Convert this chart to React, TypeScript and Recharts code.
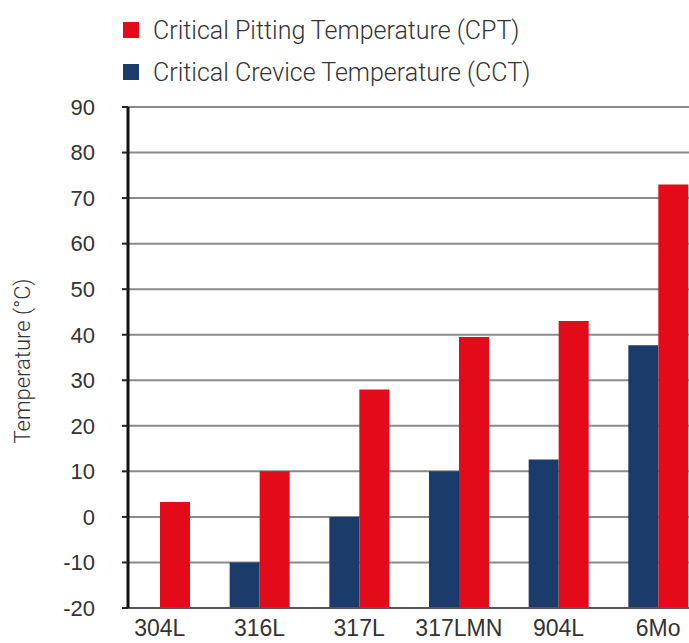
import { BarChart, Bar, XAxis, YAxis, CartesianGrid } from 'recharts'

const RED = '#e30a1a'
const BLUE = '#1b3b6b'

const grades = ['304L', '316L', '317L', '317LMN', '904L', '6Mo']
const cpt = [3.3, 10, 28, 39.5, 43, 73]
const cct: (number | null)[] = [null, -10, 0, 10, 12.6, 37.7]
const yTicks = [-20, -10, 0, 10, 20, 30, 40, 50, 60, 70, 80, 90]

const BASE = -20

const data = grades.map((g, i) => ({ grade: g, cpt: cpt[i], cct: cct[i] }))

const legendItems = [
  { label: 'Critical Pitting Temperature (CPT)', color: RED, center: 30 },
  { label: 'Critical Crevice Temperature (CCT)', color: BLUE, center: 72 },
]

export default function App() {
  return (
    <div style={{ position: 'absolute', left: 0, top: 0, width: 689, height: 643, overflow: 'hidden', background: '#fff' }}>
      {legendItems.map((it) => (
        <div
          key={it.label}
          style={{
            position: 'absolute', left: 123, top: it.center - 18, height: 36, display: 'flex', alignItems: 'center',
            fontFamily: 'Roboto, sans-serif', fontWeight: 300, fontSize: 25, color: '#333', whiteSpace: 'nowrap',
          }}
        >
          <span style={{ width: 16, height: 16, background: it.color, display: 'inline-block', marginRight: 14 }} />
          {it.label}
        </div>
      ))}
      <div
        style={{
          position: 'absolute', left: 22, top: 361, transform: 'translate(-50%, -50%) rotate(-90deg)',
          fontFamily: 'Roboto, sans-serif', fontWeight: 300, fontSize: 22, color: '#333', whiteSpace: 'nowrap',
        }}
      >
        Temperature (°C)
      </div>
      <BarChart
        width={708}
        height={643}
        data={data}
        margin={{ top: 107, right: 0, left: 0, bottom: 0 }}
        barSize={30}
        barGap={0}
        style={{ position: 'absolute', left: 0, top: 0 }}
      >
        <CartesianGrid vertical={false} stroke="#8a8a8a" strokeWidth={2} />
        <XAxis
          dataKey="grade"
          height={35}
          padding={{ left: -18, right: 0 }}
          tickLine={false}
          tickSize={0}
          tickMargin={12}
          axisLine={{ stroke: '#555', strokeWidth: 2 }}
          tick={{ fontSize: 23, fill: '#333', fontFamily: 'Liberation Sans, Arial, sans-serif' }}
          interval={0}
        />
        <YAxis
          width={128}
          domain={[-20, 90]}
          ticks={yTicks}
          interval={0}
          tickSize={6}
          tickMargin={27}
          tickLine={{ stroke: '#222', strokeWidth: 2 }}
          axisLine={{ stroke: '#111', strokeWidth: 3 }}
          tick={{ fontSize: 22, fill: '#333', fontFamily: 'Liberation Sans, Arial, sans-serif' }}
        />
        <Bar
          dataKey={(d: any) => (d.cct == null ? null : [BASE, d.cct])}
          fill={BLUE}
          isAnimationActive={false}
        />
        <Bar
          dataKey={(d: any) => [BASE, d.cpt]}
          fill={RED}
          isAnimationActive={false}
        />
      </BarChart>
    </div>
  )
}
